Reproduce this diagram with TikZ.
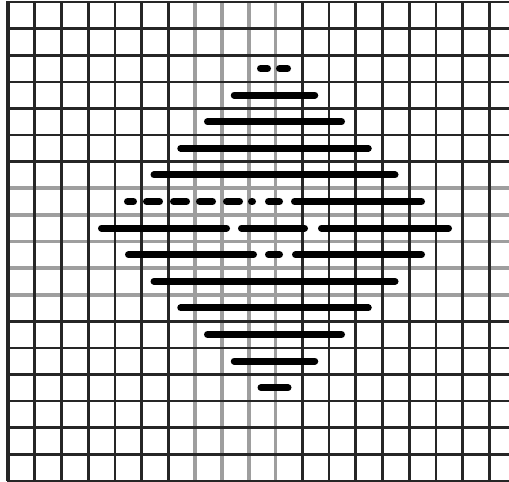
\documentclass[tikz,border=0pt]{standalone}
\usepackage{tikz}

\begin{document}
\begin{tikzpicture}[x=1pt,y=-1pt,
  gridline/.style={draw=black!85,line width=2.6pt},
  faintline/.style={draw=black!38,line width=3.8pt},
  stripe/.style={draw=black,line width=7pt,line cap=round}
]
\useasboundingbox (0,0) rectangle (509,482);
\fill[white] (0,0) rectangle (509,482);

% faint grid lines in the middle
\foreach \k in {7,...,10}
  \draw[faintline] ({8+26.75*\k},2) -- ({8+26.75*\k},481);
\foreach \k in {7,...,11}
  \draw[faintline] (8,{2+26.6*\k}) -- (509,{2+26.6*\k});

% dark grid lines
\foreach \k in {0,...,6,11,12,...,18}
  \draw[gridline] ({8+26.75*\k},1.3) -- ({8+26.75*\k},481);
\foreach \k in {0,...,6,12,13,...,18}
  \draw[gridline] (6.7,{2+26.6*\k}) -- (509,{2+26.6*\k});
\draw[gridline,line width=4pt] (8,1) -- (8,481);

% solid stripes of the diamond
\foreach \r in {3,4,5,6,10,11,12,13,14} {
  \pgfmathsetmacro{\ry}{2+26.6*(\r+0.5)}
  \pgfmathsetmacro{\hw}{17+26.75*(6-abs(\r-8))-3.5}
  \draw[stripe] ({274.5-\hw},\ry) -- ({274.5+\hw},\ry);
}

% broken stripes
\foreach \r/\segs in {2/{257/271,276/291},
    7/{124/137,143/163,170/190,196/216,223/243,248/256,265/283,291/425},
    8/{98/230,238/308,318/452},
    9/{125/257,265/283,292/425}} {
  \pgfmathsetmacro{\ry}{2+26.6*(\r+0.5)}
  \foreach \a/\b in \segs
    \draw[stripe] ({\a+3.5},\ry) -- ({\b-3.5},\ry);
}
\end{tikzpicture}
\end{document}
